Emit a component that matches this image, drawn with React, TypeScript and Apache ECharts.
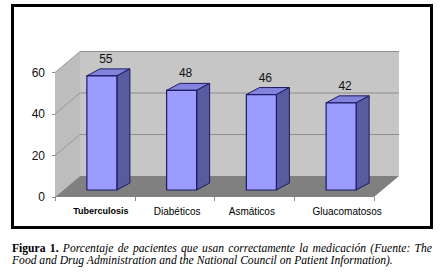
import React, { useEffect, useRef } from "react";
import * as echarts from "echarts";

const categories = ["Tuberculosis", "Diabéticos", "Asmáticos", "Gluacomatosos"];
const values = [55, 48, 46, 42];
const yTicks = [0, 20, 40, 60];
const captionBoldWords = ["Figura", "1."];
const captionLine1 = "Porcentaje de pacientes que usan correctamente la medicación (Fuente: The";
const captionLine2 = "Food and Drug Administration and the National Council on Patient Information).";

const W = 442;
const H = 278;
const GRID = { left: 55, top: 72.5, width: 319, height: 124.5 };
const WALL_D = [25, -21];
const BAR_OFF = [7, -7];
const BAR_DEPTH = [13, -7];
const BAR_HALF = 15;
const SANS = "'Liberation Sans', Arial, sans-serif";
const SERIF = "'Liberation Serif', 'Times New Roman', serif";
const LABEL_SHIFT = [6, 2.5, -2.5, 13];
const CAP_SIZE = 11.6;

function measure(text: string, font: string): number {
  const c = document.createElement("canvas").getContext("2d");
  if (!c) return text.length * 5;
  c.font = font;
  return c.measureText(text).width;
}

export default function App() {
  const ref = useRef<HTMLDivElement>(null);
  useEffect(() => {
    if (!ref.current) return;
    const chart = echarts.init(ref.current, null, { renderer: "svg" });

    const boldFont = `bold ${CAP_SIZE}px ${SERIF}`;
    const itFont = `italic ${CAP_SIZE}px ${SERIF}`;
    const words = [
      ...captionBoldWords.map((t) => ({ t, font: boldFont })),
      ...captionLine1.split(" ").map((t) => ({ t, font: itFont })),
    ];
    const capLeft = 12;
    const capRight = 432;
    const widths = words.map((w) => measure(w.t, w.font));
    const total = widths.reduce((a, b) => a + b, 0);
    const gap = (capRight - capLeft - total) / (words.length - 1);
    let cx = capLeft;
    const line1Els = words.map((w, i) => {
      const el = {
        type: "text",
        x: cx,
        y: 248,
        style: {
          text: w.t,
          font: w.font,
          fill: "#000",
          textAlign: "left",
          align: "left",
          textVerticalAlign: "middle",
          verticalAlign: "middle",
        },
      };
      cx += widths[i] + gap;
      return el;
    });

    const rich: any = {};
    categories.forEach((_, i) => {
      const s = LABEL_SHIFT[i];
      rich["c" + i] = {
        fontFamily: SANS,
        fontSize: i === 0 ? 9 : 10,
        fontWeight: i === 0 ? "bold" : "normal",
        color: "#000",
        padding: s >= 0 ? [0, 0, 0, 2 * s] : [0, -2 * s, 0, 0],
      };
    });

    const option: any = {
      animation: false,
      backgroundColor: "#fff",
      grid: { left: GRID.left, top: GRID.top, width: GRID.width, height: GRID.height },
      xAxis: {
        type: "category",
        data: categories,
        axisLine: { show: false },
        axisTick: { show: true, length: 4, lineStyle: { color: "#8c8c8c" } },
        axisLabel: {
          interval: 0,
          margin: 9,
          formatter: (v: string, idx: number) => `{c${idx}|${v}}`,
          rich,
        },
      },
      yAxis: {
        type: "value",
        min: yTicks[0],
        max: yTicks[yTicks.length - 1],
        interval: yTicks[1] - yTicks[0],
        axisLine: { show: false },
        axisTick: { show: true, length: 3, lineStyle: { color: "#8c8c8c" } },
        splitLine: { show: false },
        axisLabel: { fontFamily: SANS, fontSize: 12, color: "#111", margin: 10 },
      },
      graphic: [
        {
          type: "rect",
          shape: { x: 12.5, y: 5.5, width: 419, height: 222 },
          style: { fill: "none", stroke: "#000", lineWidth: 3 },
          z: 100,
        },
        ...line1Els,
        {
          type: "text",
          x: capLeft,
          y: 260,
          style: {
            text: captionLine2,
            font: itFont,
            fill: "#000",
            textAlign: "left",
            align: "left",
            textVerticalAlign: "middle",
            verticalAlign: "middle",
          },
        },
      ],
      series: [
        {
          type: "custom",
          z: 1,
          silent: true,
          data: [[0, 0]],
          renderItem: (params: any, api: any) => {
            const cs = params.coordSys;
            const x0 = cs.x;
            const x1 = cs.x + cs.width;
            const yB = api.coord([0, yTicks[0]])[1];
            const yT = api.coord([0, yTicks[yTicks.length - 1]])[1];
            const [dx, dy] = WALL_D;
            const children: any[] = [
              {
                type: "polygon",
                shape: { points: [[x0, yB], [x0, yT], [x0 + dx, yT + dy], [x0 + dx, yB + dy]] },
                style: { fill: "#bdbdbd" },
              },
              {
                type: "polygon",
                shape: { points: [[x0 + dx, yT + dy], [x1 + dx, yT + dy], [x1 + dx, yB + dy], [x0 + dx, yB + dy]] },
                style: { fill: "#c6c6c6" },
              },
              {
                type: "polygon",
                shape: { points: [[x0, yB], [x0 + dx, yB + dy], [x1 + dx, yB + dy], [x1, yB]] },
                style: { fill: "#808080" },
              },
            ];
            yTicks.slice(1).forEach((t) => {
              const y = api.coord([0, t])[1];
              children.push({
                type: "line",
                shape: { x1: x0 + dx, y1: y + dy, x2: x1 + dx, y2: y + dy },
                style: { stroke: "#8e8e8e", lineWidth: 1 },
              });
              children.push({
                type: "line",
                shape: { x1: x0, y1: y, x2: x0 + dx, y2: y + dy },
                style: { stroke: "#9a9a9a", lineWidth: 1 },
              });
            });
            return { type: "group", children };
          },
        },
        {
          type: "custom",
          z: 2,
          data: values.map((v, i) => [i, v]),
          renderItem: (params: any, api: any) => {
            const i = api.value(0);
            const v = api.value(1);
            const base = api.coord([i, 0]);
            const top = api.coord([i, v]);
            const c = base[0] + BAR_OFF[0];
            const yb = base[1] + BAR_OFF[1];
            const yt = top[1] + BAR_OFF[1];
            const [ddx, ddy] = BAR_DEPTH;
            const l = c - BAR_HALF;
            const r = c + BAR_HALF;
            const stroke = "#1a1a66";
            return {
              type: "group",
              children: [
                {
                  type: "polygon",
                  shape: { points: [[l, yt], [l + ddx, yt + ddy], [r + ddx, yt + ddy], [r, yt]] },
                  style: { fill: "#8383dc", stroke, lineWidth: 1 },
                },
                {
                  type: "polygon",
                  shape: { points: [[r, yt], [r + ddx, yt + ddy], [r + ddx, yb + ddy], [r, yb]] },
                  style: { fill: "#5a5a9e", stroke, lineWidth: 1 },
                },
                {
                  type: "rect",
                  shape: { x: l, y: yt, width: 2 * BAR_HALF, height: yb - yt },
                  style: { fill: "#9c9cff", stroke, lineWidth: 1.2 },
                },
                {
                  type: "text",
                  style: {
                    text: String(v),
                    x: c + 4,
                    y: yt + ddy - 4,
                    fill: "#111",
                    font: `12px ${SANS}`,
                    textAlign: "center",
                    align: "center",
                    textVerticalAlign: "bottom",
                    verticalAlign: "bottom",
                  },
                },
              ],
            };
          },
        },
      ],
    };
    chart.setOption(option);
    return () => chart.dispose();
  }, []);
  return (
    <div
      ref={ref}
      style={{ position: "absolute", left: 0, top: 0, width: W, height: H, background: "#fff" }}
    />
  );
}
